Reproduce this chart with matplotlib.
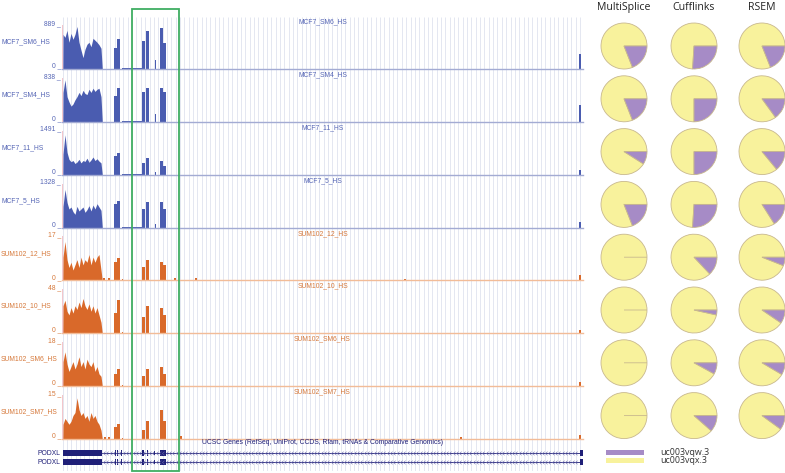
import numpy as np
import matplotlib
matplotlib.use("Agg")
import matplotlib.pyplot as plt
from matplotlib.path import Path
from matplotlib.patches import Rectangle

W, H = 785, 473

# coverage tracks
track_names = ["MCF7_SM6_HS", "MCF7_SM4_HS", "MCF7_11_HS", "MCF7_5_HS",
               "SUM102_12_HS", "SUM102_10_HS", "SUM102_SM6_HS", "SUM102_SM7_HS"]
track_max = [889, 838, 1491, 1328, 17, 48, 18, 15]

block_pos = [1, 3, 5, 7, 9, 11, 13, 15, 17, 19, 21, 23, 25, 27, 29, 31, 33, 35, 37, 39]
cov_mcf7_sm6 = [700, 640, 780, 540, 720, 600, 700, 860, 540, 380, 230, 400, 500, 540, 450, 620, 580, 540, 490, 420]
cov_mcf7_sm4 = [560, 800, 480, 380, 300, 340, 420, 480, 560, 500, 600, 540, 520, 620, 560, 640, 580, 620, 640, 480]
cov_mcf7_11 = [700, 1350, 760, 520, 440, 480, 380, 430, 520, 400, 480, 450, 560, 420, 500, 600, 480, 540, 460, 400]
cov_mcf7_5 = [640, 1150, 760, 560, 620, 480, 400, 640, 500, 560, 620, 460, 540, 660, 500, 680, 560, 720, 620, 520]
cov_sum_12 = [9, 15, 8, 5, 7, 4, 6, 8, 5, 9, 6, 8, 7, 10, 6, 9, 7, 9, 10, 4]
cov_sum_10 = [30, 36, 24, 20, 28, 22, 30, 26, 34, 28, 38, 30, 26, 32, 24, 30, 22, 28, 20, 12]
cov_sum_sm6 = [10, 14, 9, 6, 8, 10, 7, 9, 12, 8, 10, 7, 11, 9, 8, 10, 6, 8, 5, 4]
cov_sum_sm7 = [5, 7, 6, 5, 6, 8, 9, 14, 10, 8, 9, 7, 8, 6, 9, 7, 8, 6, 5, 3]
block_cov = [cov_mcf7_sm6, cov_mcf7_sm4, cov_mcf7_11, cov_mcf7_5,
             cov_sum_12, cov_sum_10, cov_sum_sm6, cov_sum_sm7]

exon_starts = [52.3, 55.4, 59.5, 80.3, 84.3, 92.5, 97.5, 100.5]
exon_ends = [54.8, 57.9, 60.5, 82.8, 87.2, 93.6, 100.5, 104.2]
exon_cov = [
    [420, 600, 20, 560, 760, 180, 820, 520],
    [500, 640, 20, 560, 640, 150, 650, 560],
    [650, 720, 30, 380, 560, 80, 480, 280],
    [700, 800, 30, 560, 760, 120, 780, 560],
    [7, 8.5, 0.5, 5, 8, 0, 7, 6],
    [22, 36, 1, 18, 30, 0, 28, 20],
    [5, 7, 0.3, 4, 7, 0, 8, 5],
    [4, 5, 0.3, 3, 6, 0, 10, 6],
]
plateau_cov = [15, 15, 20, 20, 0, 0, 0, 0]
spikes = [
    [(518, 300)],
    [(518, 330)],
    [(518, 150)],
    [(518, 180)],
    [(42, 1), (47, 0.8), (113, 1), (134, 0.8), (343, 0.5), (518, 2)],
    [(518, 4)],
    [(518, 1.5)],
    [(43, 0.5), (47, 0.5), (119, 1), (399, 0.7), (518, 1.5)],
]

# gene model (PODXL)
gene_exons = [(1.3, 40.0), (52.6, 53.6), (55.1, 56.1), (59.2, 60.2), (80.3, 81.5),
              (85.0, 86.2), (97.7, 103.5), (517.5, 521.0)]
gene_half_exons = [(92.2, 93.0)]

# pie fractions of uc003vqw.3
methods = ["MultiSplice", "Cufflinks", "RSEM"]
ms_frac = [0.19, 0.19, 0.09, 0.19, 0.0, 0.0, 0.0, 0.0]
cf_frac = [0.26, 0.25, 0.25, 0.26, 0.13, 0.035, 0.08, 0.115]
rsem_frac = [0.19, 0.15, 0.14, 0.16, 0.06, 0.095, 0.085, 0.10]
isoforms = ["uc003vqw.3", "uc003vqx.3"]

BLUE, BLUE_TXT, BLUE_LINE = "#4a5cb0", "#5565b5", "#a3abd3"
ORANGE, ORANGE_TXT, ORANGE_LINE = "#d9692a", "#d6783a", "#f2bc98"
NAVY = "#1f1f78"
PURPLE, YELLOW = "#a68bc6", "#f8f29c"
UCSC = ["Liberation Sans", "DejaVu Sans"]

fig = plt.figure(figsize=(W / 100, H / 100), dpi=100)


def px_axes(x0, y0, x1, y1):
    ax = fig.add_axes([x0 / W, 1 - y1 / H, (x1 - x0) / W, (y1 - y0) / H])
    ax.set_axis_off()
    ax.patch.set_alpha(0)
    return ax


X0, X1 = 62, 583
grid = px_axes(X0, 17, X1, 471)
grid.set_xlim(0, 521)
grid.set_ylim(0, 1)
grid.vlines(np.arange(0.5, 521, 4.35), 0, 1, color="#e4e7f1", lw=0.7)

for i, name in enumerate(track_names):
    base = 69 + 52.85 * i
    top = base - 44
    col = BLUE if i < 4 else ORANGE
    ax = px_axes(X0, top, X1, base)
    ax.set_xlim(0, 521)
    ax.set_ylim(0, track_max[i])
    xs = [0.8] + block_pos + [40.3]
    ys = [0] + block_cov[i] + [0]
    ax.fill_between(xs, ys, 0, color=col, lw=0)
    widths = [e - s for s, e in zip(exon_starts, exon_ends)]
    ax.bar(exon_starts, exon_cov[i], width=widths, align="edge", color=col, lw=0)
    if plateau_cov[i]:
        ax.bar(61, plateau_cov[i], width=19.5, align="edge", color=col, lw=0)
    for p, h in spikes[i]:
        ax.bar(p, h, width=1.2, color=col, lw=0)
    ax.axhline(0, color=BLUE_LINE if i < 4 else ORANGE_LINE, lw=1.0, clip_on=False)
    ax.axvline(0, color="#f3c6cc", lw=0.8)

# gene track
gax = px_axes(X0, 446, X1, 468)
gax.set_xlim(0, 521)
gax.set_ylim(468, 446)
chev = Path([(0.6, 1), (-0.6, 0), (0.6, -1)], [Path.MOVETO, Path.LINETO, Path.LINETO])
chev_x = np.arange(42, 516, 3.3)
for row in (453, 462):
    gax.plot([40, 517.5], [row, row], color=NAVY, lw=0.6)
    gax.plot(chev_x, np.full(len(chev_x), row), ls="none", marker=chev, ms=2.6,
             mfc="none", mec="#6b6bab", mew=0.4)
    for s, e in gene_exons:
        gax.add_patch(Rectangle((s, row - 2.7), e - s, 5.4, color=NAVY, lw=0))
    for s, e in gene_half_exons:
        gax.add_patch(Rectangle((s, row - 1.6), e - s, 3.2, color=NAVY, lw=0))

# pies
cols_x = [624, 694, 762]
for j, fr in enumerate([ms_frac, cf_frac, rsem_frac]):
    for i, p in enumerate(fr):
        cx, cy = cols_x[j], 46 + 52.8 * i
        pax = px_axes(cx - 25, cy - 25, cx + 25, cy + 25)
        pax.pie([1 - p, p], colors=[YELLOW, PURPLE], startangle=0, counterclock=True,
                radius=23 / 25, wedgeprops=dict(edgecolor="#c8b88e", linewidth=0.6))
        pax.set_xlim(-1, 1)
        pax.set_ylim(-1, 1)

# overlay for labels and box
ov = fig.add_axes([0, 0, 1, 1])
ov.set_axis_off()
ov.patch.set_alpha(0)
ov.set_xlim(0, W)
ov.set_ylim(H, 0)

for i, name in enumerate(track_names):
    base = 69 + 52.85 * i
    tc = BLUE_TXT if i < 4 else ORANGE_TXT
    ov.text(1, base - 27, name, fontsize=4.9, color=tc, ha="left", va="center", family=UCSC)
    ov.text(322.5, base - 47, name, fontsize=4.9, color=tc, ha="center", va="center", family=UCSC)
    ov.text(61, base - 45.5, f"{track_max[i]} _", fontsize=4.9, color=tc, ha="right",
            va="center", family=UCSC)
    ov.text(61, base - 3, "0 _", fontsize=4.9, color=tc, ha="right", va="center", family=UCSC)

ov.text(322, 442.5, "UCSC Genes (RefSeq, UniProt, CCDS, Rfam, tRNAs & Comparative Genomics)",
        fontsize=4.9, color=NAVY, ha="center", va="center", family=UCSC)
for row in (453, 462):
    ov.text(61, row, "PODXL", fontsize=4.9, color=NAVY, ha="right", va="center", family=UCSC)

ov.add_patch(Rectangle((132, 9), 47, 462, fill=False, ec="#3fae62", lw=1.3))

for j, m in enumerate(methods):
    ov.text(cols_x[j], 10, m, fontsize=7.6, color="#222222", ha="center", va="baseline",
            family=["Open Sans", "DejaVu Sans"])

ov.add_patch(Rectangle((606, 450), 38, 5, color=PURPLE, lw=0))
ov.add_patch(Rectangle((606, 458), 38, 5, color=YELLOW, lw=0))
ov.text(660, 452.5, isoforms[0], fontsize=6.4, color="#333333", va="center",
        family=["Open Sans", "DejaVu Sans"])
ov.text(660, 460.5, isoforms[1], fontsize=6.4, color="#333333", va="center",
        family=["Open Sans", "DejaVu Sans"])

fig.savefig("out.png", dpi=100)
